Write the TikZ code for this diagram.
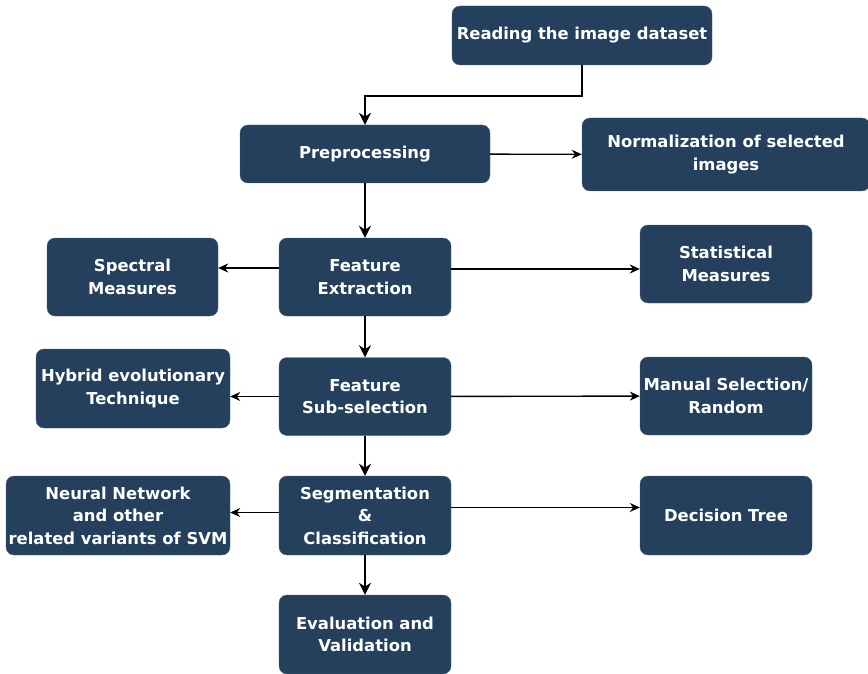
\documentclass[tikz,border=0pt]{standalone}
\usepackage{fontspec}
\setmainfont{DejaVu Sans}
\usetikzlibrary{arrows.meta}
\definecolor{boxblue}{RGB}{36,64,92}
\begin{document}
\begin{tikzpicture}[x=1pt,y=-1pt,
  stage/.style={draw=boxblue!80!white, fill=boxblue, rounded corners=8pt, text=white,
    font=\fontsize{16.4}{22.5}\selectfont\bfseries, align=center, inner sep=0pt},
  mainarrow/.style={line width=1.8pt, -{Stealth[length=12pt,width=12pt]}},
  sidearrow/.style={line width=1.4pt, -{Stealth[length=10pt,width=9pt]}}]

\useasboundingbox (0,0) rectangle (868,674);

%main column
\node[stage, minimum width=260, minimum height=59] (read) at (582,35.5) {Reading the image dataset};
\node[stage, minimum width=250, minimum height=58] (pre) at (365,154) {Preprocessing};
\node[stage, minimum width=172, minimum height=78] (fext) at (365,277) {Feature\\Extraction};
\node[stage, minimum width=172, minimum height=78] (fsub) at (365,396.5) {Feature\\Sub-selection};
\node[stage, minimum width=172, minimum height=79] (segm) at (365,515.5) {Segmentation\\\&\\Classification};
\node[stage, minimum width=172, minimum height=79] (eval) at (365,634.5) {Evaluation and\\Validation};

%left side
\node[stage, minimum width=171, minimum height=78] (spec) at (132.5,277) {Spectral\\Measures};
\node[stage, minimum width=194, minimum height=79] (hyb) at (133,388.5) {Hybrid evolutionary\\Technique};
\node[stage, minimum width=224, minimum height=79] (neur) at (118,515.5) {Neural Network\\and other\\related variants of SVM};

%right side
\node[stage, minimum width=288, minimum height=73] (norm) at (726,154.5) {Normalization of selected\\images};
\node[stage, minimum width=172, minimum height=78] (stat) at (726,264) {Statistical\\Measures};
\node[stage, minimum width=172, minimum height=78] (manu) at (726,396) {Manual Selection/\\Random};
\node[stage, minimum width=172, minimum height=79] (dect) at (726,515.5) {Decision Tree};

%arrows down
\coordinate (bend) at (582,96);
\draw[mainarrow] (read.south) -- (bend) -| (pre.north);
\draw[mainarrow] (pre) -- (fext);
\draw[mainarrow] (fext) -- (fsub);
\draw[mainarrow] (fsub) -- (segm);
\draw[mainarrow] (segm) -- (eval);

%arrows sideways
\draw[sidearrow] (pre) -- (norm);
\draw[sidearrow] ([yshift=9]fext.west) -- ([yshift=9]fext.west -| spec.east);
\draw[sidearrow] ([yshift=8]fext.east) -- ([yshift=8]fext.east -| stat.west);
\draw[sidearrow] (fsub) -- (hyb.east |- fsub);
\draw[sidearrow] (fsub) -- (manu);
\draw[sidearrow] ([yshift=3]segm.west) -- ([yshift=3]segm.west -| neur.east);
\draw[sidearrow] ([yshift=8]segm.east) -- ([yshift=8]segm.east -| dect.west);
\end{tikzpicture}
\end{document}
